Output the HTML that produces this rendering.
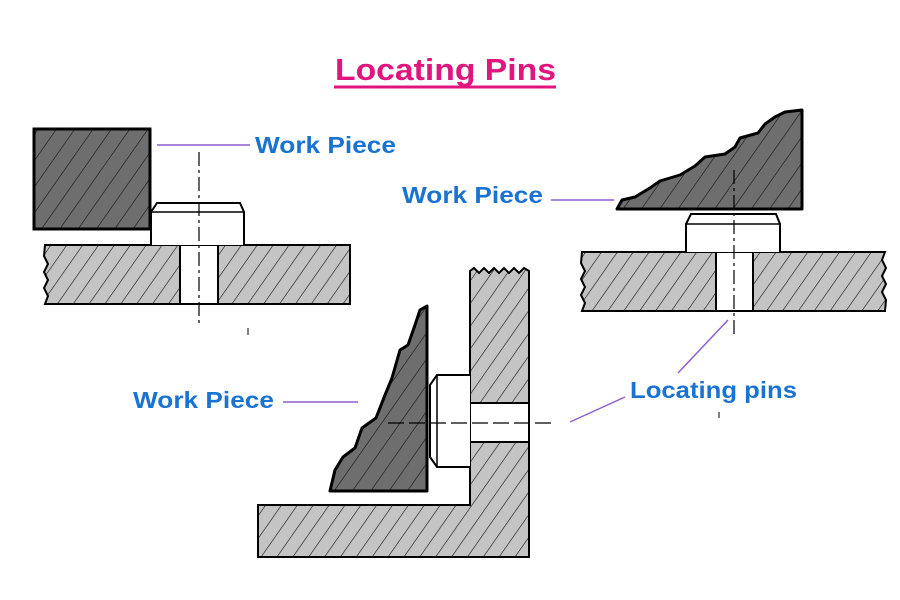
<!DOCTYPE html>
<html><head><meta charset="utf-8"><style>
html,body{margin:0;padding:0;background:#fff;}
svg{display:block;}
text{font-family:"Liberation Sans",Arial,sans-serif;font-weight:bold;}
</style></head><body>
<svg width="900" height="600" viewBox="0 0 900 600" xmlns="http://www.w3.org/2000/svg">
<defs>
<pattern id="hl" patternUnits="userSpaceOnUse" width="13" height="13" patternTransform="rotate(35)">
<rect width="13" height="13" fill="#c4c4c4"/><line x1="0" y1="0" x2="0" y2="13" stroke="#111" stroke-width="1.2"/>
</pattern>
<pattern id="hd" patternUnits="userSpaceOnUse" width="15" height="15" patternTransform="rotate(35)">
<rect width="15" height="15" fill="#6e6e6e"/><line x1="0" y1="0" x2="0" y2="15" stroke="#111" stroke-width="1.2"/>
</pattern>
</defs>
<rect width="900" height="600" fill="#fff"/>

<!-- Title -->
<text x="335" y="80" font-size="31" fill="#e0157d" textLength="221" lengthAdjust="spacingAndGlyphs">Locating Pins</text>
<line x1="334" y1="87" x2="556" y2="87" stroke="#e0157d" stroke-width="3"/>

<!-- LEFT ASSEMBLY -->
<rect x="34" y="129" width="116" height="100" fill="url(#hd)" stroke="#000" stroke-width="3"/>
<path d="M45 245 L350 245 L350 304 L45 304 L48 296 L44 288 L48 280 L44 272 L48 264 L44 256 Z" fill="url(#hl)" stroke="#000" stroke-width="2"/>
<rect x="180" y="245" width="38" height="59" fill="#fff" stroke="#000" stroke-width="2"/>
<path d="M151 245 L151 212 L157 203 L240 203 L244 212 L244 245" fill="#fff" stroke="#000" stroke-width="2"/>
<line x1="151" y1="212" x2="244" y2="212" stroke="#000" stroke-width="1.5"/>
<line x1="199" y1="152" x2="199" y2="325" stroke="#000" stroke-width="1.2" stroke-dasharray="14,4,3,4"/>
<line x1="157" y1="145" x2="250" y2="145" stroke="#8a5fd0" stroke-width="1.5"/>
<text x="255" y="153" font-size="23" fill="#1a73d0" textLength="141" lengthAdjust="spacingAndGlyphs">Work Piece</text>
<line x1="248" y1="328" x2="248" y2="335" stroke="#000" stroke-width="1"/>

<!-- RIGHT ASSEMBLY -->
<path d="M582 252 L885 252 L882 260 L886 268 L882 276 L886 284 L882 292 L886 300 L885 311 L582 311 L585 303 L581 295 L585 287 L581 279 L585 271 L581 263 Z" fill="url(#hl)" stroke="#000" stroke-width="2"/>
<rect x="716" y="252" width="37" height="59" fill="#fff" stroke="#000" stroke-width="2"/>
<path d="M686 252 L686 224 L691 214 L776 214 L780 224 L780 252" fill="#fff" stroke="#000" stroke-width="2"/>
<line x1="686" y1="224" x2="780" y2="224" stroke="#000" stroke-width="1.5"/>
<path d="M617 209 L622 200 L635 197 L650 188 L660 181 L680 175 L695 166 L705 157 L725 154 L735 147 L740 138 L758 133 L765 124 L775 117 L785 112 L802 110 L802 209 Z" fill="url(#hd)" stroke="#000" stroke-width="3" stroke-linejoin="round"/>
<line x1="734" y1="170" x2="734" y2="335" stroke="#000" stroke-width="1.2" stroke-dasharray="14,4,3,4"/>
<line x1="551" y1="200" x2="614" y2="200" stroke="#8a5fd0" stroke-width="1.5"/>
<text x="402" y="203" font-size="23" fill="#1a73d0" textLength="141" lengthAdjust="spacingAndGlyphs">Work Piece</text>

<!-- MIDDLE ASSEMBLY -->
<path d="M470 271 L474 268 L479 273 L484 268 L489 273 L494 268 L499 273 L504 268 L509 273 L514 268 L519 273 L524 268 L529 271 L529 557 L258 557 L258 505 L470 505 Z" fill="url(#hl)" stroke="#000" stroke-width="2"/>
<rect x="470" y="403" width="59" height="39" fill="#fff" stroke="#000" stroke-width="2"/>
<path d="M470 375 L437 375 L430 385 L430 457 L437 467 L470 467" fill="#fff" stroke="#000" stroke-width="2"/>
<line x1="437" y1="375" x2="437" y2="467" stroke="#000" stroke-width="1.5"/>
<path d="M427 306 L420 310 L415 325 L408 345 L400 350 L392 378 L385 395 L376 418 L362 428 L355 448 L343 457 L335 470 L330 491 L427 491 Z" fill="url(#hd)" stroke="#000" stroke-width="3" stroke-linejoin="round"/>
<line x1="388" y1="423" x2="556" y2="423" stroke="#000" stroke-width="1.2" stroke-dasharray="16,5"/>
<line x1="283" y1="402" x2="358" y2="402" stroke="#8a5fd0" stroke-width="1.5"/>
<text x="133" y="408" font-size="23" fill="#1a73d0" textLength="141" lengthAdjust="spacingAndGlyphs">Work Piece</text>

<!-- Locating pins label -->
<line x1="728" y1="320" x2="678" y2="373" stroke="#8a5fd0" stroke-width="1.5"/>
<line x1="570" y1="422" x2="625" y2="397" stroke="#8a5fd0" stroke-width="1.5"/>
<text x="630" y="398" font-size="23" fill="#1a73d0" textLength="167" lengthAdjust="spacingAndGlyphs">Locating pins</text>
<line x1="719" y1="412" x2="719" y2="418" stroke="#000" stroke-width="1"/>
</svg>
</body></html>
